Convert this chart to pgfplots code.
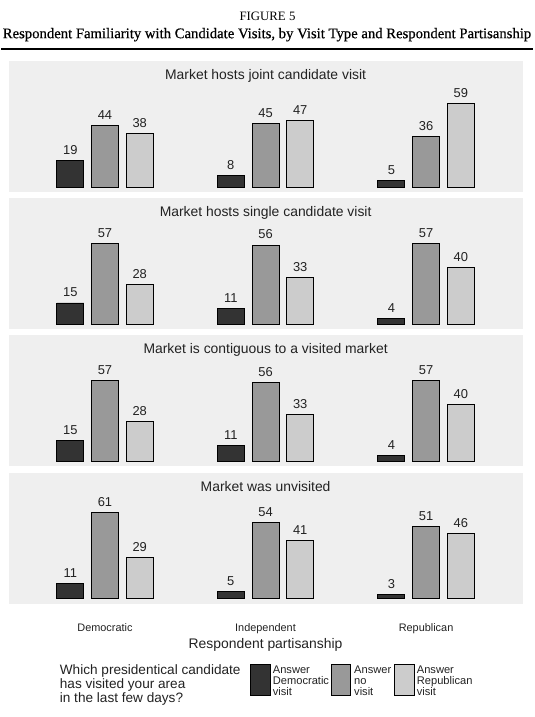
\documentclass[border=0pt]{standalone}
\usepackage{pgfplots}
\pgfplotsset{compat=1.18}
\usepackage{fontspec}
\setmainfont{Liberation Sans}
\newfontfamily\seriffont{Liberation Serif}
\newfontface\subtitlefont{Liberation Serif}[FakeBold=0.5]
\definecolor{panelbg}{HTML}{EFEFEF}
\definecolor{cdark}{HTML}{333333}
\definecolor{cmid}{HTML}{999999}
\definecolor{clight}{HTML}{CCCCCC}
\definecolor{txt}{HTML}{222222}
\pgfplotsset{
 panel/.style={
  scale only axis, width=514.2bp, height=131bp,
  xmin=-0.601, xmax=2.602, ymin=-3.54, ymax=89.17,
  axis background/.style={fill=panelbg},
  axis line style={draw=none},
  xtick=\empty, ytick=\empty,
  major tick length=0pt,
  /pgf/number format/assume math mode=true,
  ybar, bar width=27bp,
  every axis title/.style={at={(0.5,1)}, anchor=base, inner sep=0pt, yshift=-18.6bp, font=\fontsize{13.9bp}{14bp}\selectfont, text=txt},
  nodes near coords,
  every node near coord/.append style={anchor=south, inner sep=0pt, yshift=5.6bp, font=\fontsize{12.9bp}{13bp}\selectfont, text=txt},
  clip=false,
 },
 dk/.style={fill=cdark, draw=black, line width=0.8bp, bar shift=-34.7bp},
 md/.style={fill=cmid, draw=black, line width=0.8bp, bar shift=0bp},
 lt/.style={fill=clight, draw=black, line width=0.8bp, bar shift=34.7bp},
}
\begin{document}
\begin{tikzpicture}
\useasboundingbox (0,0) rectangle (535bp,717bp);
% titles
\node[anchor=base, inner sep=0pt, font=\seriffont\fontsize{12.8bp}{13bp}\selectfont] at (267.5bp,696.5bp) {FIGURE 5};
\node[anchor=base, inner sep=0pt, font=\subtitlefont\fontsize{14.7bp}{15bp}\selectfont] at (267bp,678.8bp) {Respondent Familiarity with Candidate Visits, by Visit Type and Respondent Partisanship};
\draw[line width=2bp] (1bp,668.2bp) -- (533bp,668.2bp);

% Panel 1
\begin{axis}[panel, at={(8.5bp,524.8bp)}, anchor=south west, title={Market hosts joint candidate visit}]
\addplot[dk] coordinates {(0,19) (1,8) (2,5)};
\addplot[md] coordinates {(0,44) (1,45) (2,36)};
\addplot[lt] coordinates {(0,38) (1,47) (2,59)};
\end{axis}
% Panel 2
\begin{axis}[panel, at={(8.5bp,387.8bp)}, anchor=south west, title={Market hosts single candidate visit}]
\addplot[dk] coordinates {(0,15) (1,11) (2,4)};
\addplot[md] coordinates {(0,57) (1,56) (2,57)};
\addplot[lt] coordinates {(0,28) (1,33) (2,40)};
\end{axis}
% Panel 3
\begin{axis}[panel, at={(8.5bp,250.6bp)}, anchor=south west, title={Market is contiguous to a visited market}]
\addplot[dk] coordinates {(0,15) (1,11) (2,4)};
\addplot[md] coordinates {(0,57) (1,56) (2,57)};
\addplot[lt] coordinates {(0,28) (1,33) (2,40)};
\end{axis}
% Panel 4
\begin{axis}[panel, at={(8.5bp,113.2bp)}, anchor=south west, title={Market was unvisited},
  xtick={0,1,2}, xticklabels={Democratic,Independent,Republican},
  tick style={draw=none},
  xticklabel style={anchor=base, inner sep=0pt, yshift=-28.2bp, font=\fontsize{10.9bp}{11bp}\selectfont, text=txt},
  xlabel={Respondent partisanship},
  xlabel style={at={(axis description cs:0.5,0)}, anchor=base, inner sep=0pt, yshift=-45bp, font=\fontsize{13.9bp}{14bp}\selectfont, text=txt}]
\addplot[dk] coordinates {(0,11) (1,5) (2,3)};
\addplot[md] coordinates {(0,61) (1,54) (2,51)};
\addplot[lt] coordinates {(0,29) (1,41) (2,46)};
\end{axis}

% legend
\begin{scope}[every node/.style={anchor=base west, inner sep=0pt, text=txt}]
\node[font=\fontsize{13.6bp}{14bp}\selectfont] at (59.7bp,42.6bp) {Which presidentical candidate};
\node[font=\fontsize{13.6bp}{14bp}\selectfont] at (59.7bp,28.4bp) {has visited your area};
\node[font=\fontsize{13.6bp}{14bp}\selectfont] at (59.7bp,14.6bp) {in the last few days?};
\filldraw[fill=cdark, draw=black, line width=0.8bp] (250.7bp,21.3bp) rectangle (270bp,52.7bp);
\filldraw[fill=cmid, draw=black, line width=0.8bp] (331.7bp,21.3bp) rectangle (350bp,52.7bp);
\filldraw[fill=clight, draw=black, line width=0.8bp] (394.3bp,21.3bp) rectangle (414bp,52.7bp);
\foreach \x/\a/\b in {272.7/Democratic/visit, 354/no/visit, 416.7/Republican/visit}{
  \node[font=\fontsize{11.1bp}{11bp}\selectfont] at (\x bp,43.5bp) {Answer};
  \node[font=\fontsize{11.1bp}{11bp}\selectfont] at (\x bp,32.2bp) {\a};
  \node[font=\fontsize{11.1bp}{11bp}\selectfont] at (\x bp,21.2bp) {\b};
}
\end{scope}
\end{tikzpicture}
\end{document}
